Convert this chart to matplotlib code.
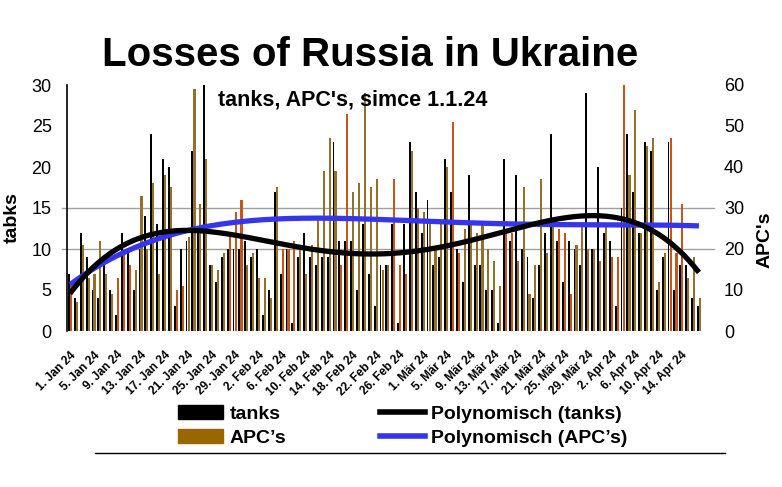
import numpy as np
import matplotlib
matplotlib.use("Agg")
import matplotlib.pyplot as plt
from matplotlib.lines import Line2D
from matplotlib.patches import Patch

plt.rcParams['font.family'] = ['Liberation Sans', 'DejaVu Sans']

# ---- data (1 Jan 24 .. 17 Apr 24) ----
tanks = [7, 4, 12, 9, 5, 4, 8, 5, 2, 12, 10, 5, 10, 14, 24, 13, 21, 20,
         3, 10, 11, 22, 12, 30, 8, 6, 9, 10, 10, 10, 11, 9, 10, 2, 5, 17,
         7, 10, 1, 9, 12, 9, 8, 9, 9, 23, 11, 11, 11, 5, 13, 7, 3, 8,
         8, 13, 1, 13, 23, 17, 12, 16, 8, 9, 21, 17, 10, 6, 19, 8, 8, 5,
         5, 1, 21, 11, 19, 10, 9, 4, 8, 12, 24, 11, 6, 11, 10, 8, 29, 10,
         20, 12, 11, 3, 15, 24, 17, 12, 23, 22, 5, 9, 23, 5, 8, 8, 4, 3]
apcs = [12, 7, 21, 13, 14, 22, 14, 9, 13, 19, 16, 15, 33, 20, 36, 14, 38, 35,
        10, 11, 23, 59, 31, 42, 16, 15, 19, 24, 29, 32, 16, 19, 13, 13, 8, 35,
        20, 20, 22, 20, 14, 21, 27, 39, 47, 39, 16, 53, 34, 36, 58, 35, 37, 15,
        16, 37, 16, 14, 44, 30, 29, 26, 20, 26, 40, 51, 19, 25, 26, 24, 26, 20,
        17, 11, 24, 24, 17, 35, 9, 16, 37, 19, 26, 25, 24, 9, 21, 26, 20, 20,
        17, 26, 18, 18, 60, 38, 54, 24, 45, 47, 12, 19, 47, 19, 31, 13, 18, 8]
highlight_days = [0, 8, 9, 10, 18, 19, 27, 28, 29, 36, 37, 38, 46, 47, 55, 56,
                  57, 65, 66, 74, 75, 83, 84, 85, 92, 93, 94, 102, 103, 104]
tick_days = list(range(0, 108, 4))
tick_labels = ['1. Jan 24', '5. Jan 24', '9. Jan 24', '13. Jan 24', '17. Jan 24',
               '21. Jan 24', '25. Jan 24', '29. Jan 24', '2. Feb 24', '6. Feb 24',
               '10. Feb 24', '14. Feb 24', '18. Feb 24', '22. Feb 24', '26. Feb 24',
               '1. Mär 24', '5. Mär 24', '9. Mär 24', '13. Mär 24', '17. Mär 24',
               '21. Mär 24', '25. Mär 24', '29. Mär 24', '2. Apr 24', '6. Apr 24',
               '10. Apr 24', '14. Apr 24']

days = np.arange(len(tanks))
BROWN = '#996600'
BAR_BROWN = '#94702A'
ORANGE = '#C4561C'
apc_colors = [ORANGE if d in highlight_days else BAR_BROWN for d in days]

fig = plt.figure(figsize=(7.82, 4.87), dpi=100)
W, H = 782, 487
ax = fig.add_axes([67 / W, 1 - 331 / H, (706 - 67) / W, (331 - 85) / H])
ax2 = ax.twinx()

ax.bar(days - 0.17, tanks, width=0.32, color='black', zorder=2)
ax2.bar(days + 0.18, apcs, width=0.36, color=apc_colors, zorder=2)

ax.set_xlim(-0.5, 108.2)
ax.set_ylim(0, 30)
ax2.set_ylim(0, 60)

# gridlines
for v in (10, 15):
    ax.axhline(v, xmin=-0.008, xmax=1.012, color='#a0a0a0', lw=1, zorder=1, clip_on=False)

# polynomial trendlines
xf = np.linspace(0, len(days) - 1, 300)
pt = np.polyfit(days, tanks, 4)
pa = np.polyfit(days, apcs, 4)
ax2.plot(xf, np.polyval(pa, xf), color='#3535EE', lw=3.8, zorder=5, solid_capstyle='butt')
ax2.plot(xf, np.polyval(pt, xf), color='black', lw=3.8, zorder=6, transform=ax.transData,
         solid_capstyle='butt')

for a in (ax, ax2):
    for s in ('top', 'right', 'bottom'):
        a.spines[s].set_visible(False)
ax2.spines['left'].set_visible(False)
ax.spines['left'].set_linewidth(1.2)

ax.set_yticks(range(0, 31, 5))
ax2.set_yticks(range(0, 61, 10))
ax.tick_params(axis='y', labelsize=13, length=0, pad=11)
ax2.tick_params(axis='y', labelsize=13, length=0, pad=13, colors='black')
ax.set_xticks(tick_days)
ax.set_xticklabels(tick_labels, rotation=45, ha='right', rotation_mode='anchor',
                   fontsize=8.5, fontweight='bold')
ax.tick_params(axis='x', length=0, pad=13)

fig.text(12 / W, 1 - 218 / H, 'tabks', fontsize=14, fontweight='bold', rotation=90,
         ha='center', va='center')
fig.text(765 / W, 1 - 240 / H, "APC's", fontsize=14, fontweight='bold', rotation=90,
         ha='center', va='center')

fig.text(370 / W, 1 - 55 / H, 'Losses of Russia in Ukraine', fontsize=29,
         fontweight='bold', ha='center', va='center')
fig.text(353 / W, 1 - 100 / H, "tanks, APC's, simce 1.1.24", fontsize=15.5,
         fontweight='bold', ha='center', va='center')

handles = [Patch(color='black'), Patch(color=BROWN),
           Line2D([], [], color='black', lw=4), Line2D([], [], color='#3535EE', lw=4)]
labels = ['tanks', 'APC’s', 'Polynomisch (tanks)', 'Polynomisch (APC’s)']
fig.legend(handles, labels, ncol=2, loc='center', bbox_to_anchor=(403 / W, 1 - 426 / H),
           frameon=False, prop={'weight': 'bold', 'size': 14},
           handlelength=2.3, handleheight=0.7, handletextpad=0.35,
           columnspacing=4.8, labelspacing=0.35, borderpad=0)
fig.add_artist(Line2D([95 / W, 725 / W], [1 - 453 / H, 1 - 453 / H], color='black', lw=1))

fig.savefig('out.png', dpi=100)
